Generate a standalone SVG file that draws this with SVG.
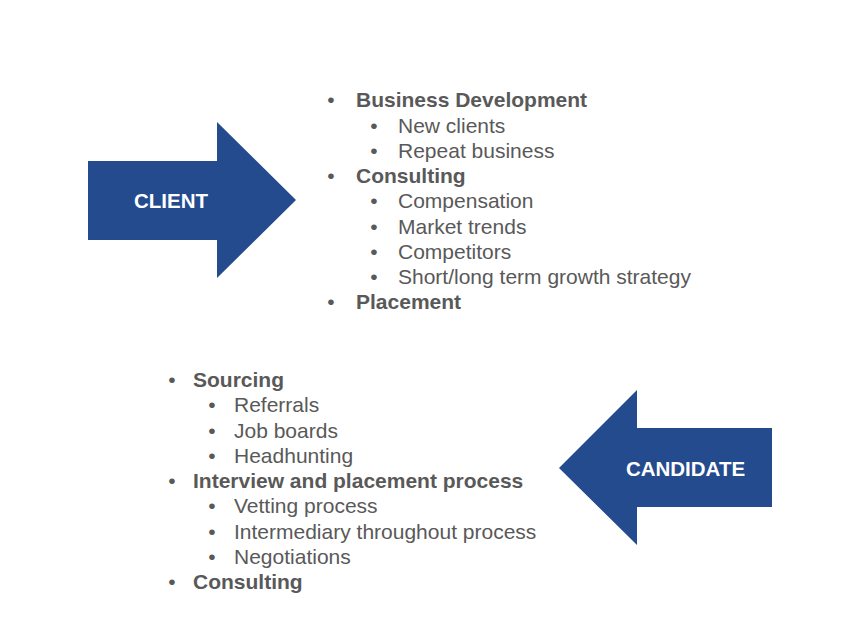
<svg xmlns="http://www.w3.org/2000/svg" width="850" height="638" viewBox="0 0 850 638">
<style>
.arrow{fill:#234B8D}
.lab{font-family:"Liberation Sans",Arial,sans-serif;font-weight:bold;font-size:20.5px;fill:#ffffff;text-anchor:middle}
.t{font-family:"Liberation Sans",Arial,sans-serif;font-size:21px;fill:#595959}
.b{font-weight:bold}
.bul{text-anchor:middle}
</style>
<rect width="850" height="638" fill="#ffffff"/>
<g id="client">
<polygon class="arrow" points="88,161 217,161 217,122 296,200 217,278 217,240 88,240"/>
<text class="lab" x="171" y="208">CLIENT</text>
</g>
<g id="candidate">
<polygon class="arrow" points="772,428 637,428 637,390 559,468 637,545 637,507 772,507"/>
<text class="lab" x="685.5" y="475.5">CANDIDATE</text>
</g>
<g id="client-list" class="t">
<text class="bul" x="331" y="107.4">•</text><text class="b" x="356" y="107.4">Business Development</text>
<text class="bul" x="374" y="132.6">•</text><text x="398" y="132.6">New clients</text>
<text class="bul" x="374" y="157.9">•</text><text x="398" y="157.9">Repeat business</text>
<text class="bul" x="331" y="183.1">•</text><text class="b" x="356" y="183.1">Consulting</text>
<text class="bul" x="374" y="208.4">•</text><text x="398" y="208.4">Compensation</text>
<text class="bul" x="374" y="233.6">•</text><text x="398" y="233.6">Market trends</text>
<text class="bul" x="374" y="258.9">•</text><text x="398" y="258.9">Competitors</text>
<text class="bul" x="374" y="284.1">•</text><text x="398" y="284.1">Short/long term growth strategy</text>
<text class="bul" x="331" y="309.4">•</text><text class="b" x="356" y="309.4">Placement</text>
</g>
<g id="candidate-list" class="t">
<text class="bul" x="172" y="387">•</text><text class="b" x="193" y="387">Sourcing</text>
<text class="bul" x="212" y="412.2">•</text><text x="234" y="412.2">Referrals</text>
<text class="bul" x="212" y="437.5">•</text><text x="234" y="437.5">Job boards</text>
<text class="bul" x="212" y="462.7">•</text><text x="234" y="462.7">Headhunting</text>
<text class="bul" x="172" y="488">•</text><text class="b" x="193" y="488">Interview and placement process</text>
<text class="bul" x="212" y="513.2">•</text><text x="234" y="513.2">Vetting process</text>
<text class="bul" x="212" y="538.5">•</text><text x="234" y="538.5">Intermediary throughout process</text>
<text class="bul" x="212" y="563.7">•</text><text x="234" y="563.7">Negotiations</text>
<text class="bul" x="172" y="589">•</text><text class="b" x="193" y="589">Consulting</text>
</g>
</svg>
